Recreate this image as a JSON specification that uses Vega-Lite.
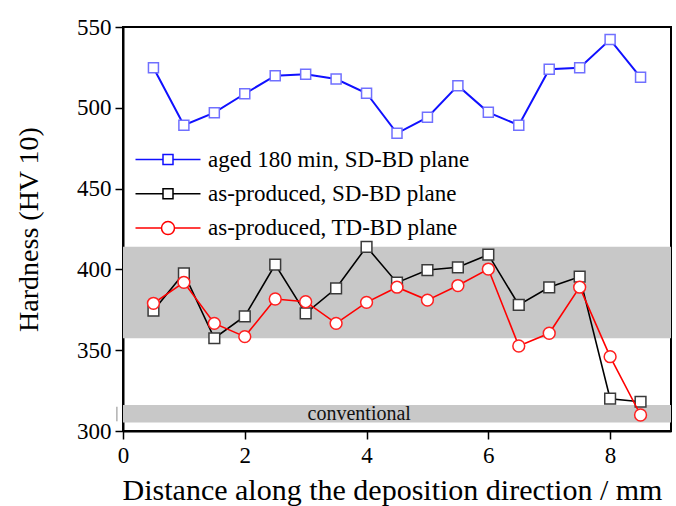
{
  "$schema": "https://vega.github.io/schema/vega-lite/v6.json",
  "width": 548,
  "height": 404,
  "autosize": {"type": "none"},
  "padding": {"left": 123, "top": 27, "right": 5, "bottom": 75},
  "background": "white",
  "config": {
    "view": {"stroke": "black", "strokeWidth": 2},
    "font": "Liberation Serif, Times New Roman, serif",
    "text": {"font": "Liberation Serif, Times New Roman, serif"},
    "axis": {
      "grid": false,
      "domainColor": "black",
      "domainWidth": 2,
      "tickColor": "black",
      "tickWidth": 1.5,
      "tickSize": 8,
      "labelFlush": false,
      "labelFont": "Liberation Serif, Times New Roman, serif",
      "labelFontSize": 23,
      "labelColor": "black",
      "titleFont": "Liberation Serif, Times New Roman, serif",
      "titleFontWeight": "normal",
      "titleColor": "black"
    },
    "legend": {
      "labelFont": "Liberation Serif, Times New Roman, serif"
    }
  },
  "datasets": {
    "hardness": [
      {"series": "aged 180 min, SD-BD plane", "distance": 0.5, "hv": 524.8},
      {"series": "aged 180 min, SD-BD plane", "distance": 1.0, "hv": 489.2},
      {"series": "aged 180 min, SD-BD plane", "distance": 1.5, "hv": 497.0},
      {"series": "aged 180 min, SD-BD plane", "distance": 2.0, "hv": 508.7},
      {"series": "aged 180 min, SD-BD plane", "distance": 2.5, "hv": 519.9},
      {"series": "aged 180 min, SD-BD plane", "distance": 3.0, "hv": 520.7},
      {"series": "aged 180 min, SD-BD plane", "distance": 3.5, "hv": 517.8},
      {"series": "aged 180 min, SD-BD plane", "distance": 4.0, "hv": 509.0},
      {"series": "aged 180 min, SD-BD plane", "distance": 4.5, "hv": 484.2},
      {"series": "aged 180 min, SD-BD plane", "distance": 5.0, "hv": 494.1},
      {"series": "aged 180 min, SD-BD plane", "distance": 5.5, "hv": 513.7},
      {"series": "aged 180 min, SD-BD plane", "distance": 6.0, "hv": 497.2},
      {"series": "aged 180 min, SD-BD plane", "distance": 6.5, "hv": 489.2},
      {"series": "aged 180 min, SD-BD plane", "distance": 7.0, "hv": 523.8},
      {"series": "aged 180 min, SD-BD plane", "distance": 7.5, "hv": 524.8},
      {"series": "aged 180 min, SD-BD plane", "distance": 8.0, "hv": 542.2},
      {"series": "aged 180 min, SD-BD plane", "distance": 8.5, "hv": 518.9},
      {"series": "as-produced, SD-BD plane", "distance": 0.5, "hv": 374.5},
      {"series": "as-produced, SD-BD plane", "distance": 1.0, "hv": 397.6},
      {"series": "as-produced, SD-BD plane", "distance": 1.5, "hv": 357.4},
      {"series": "as-produced, SD-BD plane", "distance": 2.0, "hv": 371.0},
      {"series": "as-produced, SD-BD plane", "distance": 2.5, "hv": 403.0},
      {"series": "as-produced, SD-BD plane", "distance": 3.0, "hv": 372.8},
      {"series": "as-produced, SD-BD plane", "distance": 3.5, "hv": 388.3},
      {"series": "as-produced, SD-BD plane", "distance": 4.0, "hv": 414.0},
      {"series": "as-produced, SD-BD plane", "distance": 4.5, "hv": 391.8},
      {"series": "as-produced, SD-BD plane", "distance": 5.0, "hv": 399.6},
      {"series": "as-produced, SD-BD plane", "distance": 5.5, "hv": 401.3},
      {"series": "as-produced, SD-BD plane", "distance": 6.0, "hv": 409.1},
      {"series": "as-produced, SD-BD plane", "distance": 6.5, "hv": 378.0},
      {"series": "as-produced, SD-BD plane", "distance": 7.0, "hv": 388.9},
      {"series": "as-produced, SD-BD plane", "distance": 7.5, "hv": 395.5},
      {"series": "as-produced, SD-BD plane", "distance": 8.0, "hv": 320.0},
      {"series": "as-produced, SD-BD plane", "distance": 8.5, "hv": 318.1},
      {"series": "as-produced, TD-BD plane", "distance": 0.5, "hv": 379.0},
      {"series": "as-produced, TD-BD plane", "distance": 1.0, "hv": 392.0},
      {"series": "as-produced, TD-BD plane", "distance": 1.5, "hv": 366.6},
      {"series": "as-produced, TD-BD plane", "distance": 2.0, "hv": 358.4},
      {"series": "as-produced, TD-BD plane", "distance": 2.5, "hv": 381.7},
      {"series": "as-produced, TD-BD plane", "distance": 3.0, "hv": 380.0},
      {"series": "as-produced, TD-BD plane", "distance": 3.5, "hv": 366.6},
      {"series": "as-produced, TD-BD plane", "distance": 4.0, "hv": 379.6},
      {"series": "as-produced, TD-BD plane", "distance": 4.5, "hv": 389.0},
      {"series": "as-produced, TD-BD plane", "distance": 5.0, "hv": 381.0},
      {"series": "as-produced, TD-BD plane", "distance": 5.5, "hv": 390.0},
      {"series": "as-produced, TD-BD plane", "distance": 6.0, "hv": 400.2},
      {"series": "as-produced, TD-BD plane", "distance": 6.5, "hv": 352.6},
      {"series": "as-produced, TD-BD plane", "distance": 7.0, "hv": 360.5},
      {"series": "as-produced, TD-BD plane", "distance": 7.5, "hv": 389.0},
      {"series": "as-produced, TD-BD plane", "distance": 8.0, "hv": 346.0},
      {"series": "as-produced, TD-BD plane", "distance": 8.5, "hv": 309.9}
    ],
    "bands": [
      {"band": "additive", "low": 357.4, "high": 414.0},
      {"band": "conventional", "low": 305.2, "high": 316.1}
    ],
    "bandLabel": [
      {"label": "conventional", "distance": 3.88, "hv": 310.6}
    ],
    "breakMark": [
      {"distance": -0.1, "low": 306, "high": 315}
    ]
  },
  "layer": [
    {
      "data": {"name": "bands"},
      "mark": {"type": "rect", "color": "#c8c8c8"},
      "encoding": {
        "y": {
          "field": "low",
          "type": "quantitative",
          "scale": {"domain": [300, 550], "nice": false, "zero": false},
          "axis": {
            "values": [300, 350, 400, 450, 500, 550],
            "format": "d",
            "title": "Hardness (HV 10)",
            "titleFontSize": 28,
            "titlePadding": 33,
            "labelPadding": 4
          }
        },
        "y2": {"field": "high"}
      }
    },
    {
      "data": {"name": "breakMark"},
      "mark": {"type": "rule", "color": "#8a8a8a", "strokeWidth": 1, "clip": false},
      "encoding": {
        "x": {"field": "distance", "type": "quantitative"},
        "y": {"field": "low", "type": "quantitative"},
        "y2": {"field": "high"}
      }
    },
    {
      "data": {"name": "bandLabel"},
      "mark": {"type": "text", "fontSize": 20, "color": "#111", "baseline": "middle", "align": "center"},
      "encoding": {
        "x": {"field": "distance", "type": "quantitative"},
        "y": {"field": "hv", "type": "quantitative"},
        "text": {"field": "label"}
      }
    },
    {
      "data": {"name": "hardness"},
      "transform": [{"filter": "datum.series === 'aged 180 min, SD-BD plane'"}],
      "mark": {"type": "line", "strokeWidth": 2},
      "encoding": {
        "x": {
          "field": "distance",
          "type": "quantitative",
          "scale": {"domain": [0, 9], "nice": false, "zero": false},
          "axis": {
            "values": [0, 2, 4, 6, 8],
            "format": "d",
            "title": "Distance along the deposition direction / mm",
            "titleFontSize": 30,
            "titleAnchor": "middle",
            "titleX": 269,
            "titlePadding": 8,
            "labelPadding": 5
          }
        },
        "y": {"field": "hv", "type": "quantitative"},
        "color": {
          "field": "series",
          "type": "nominal",
          "scale": {
            "domain": ["aged 180 min, SD-BD plane", "as-produced, SD-BD plane", "as-produced, TD-BD plane"],
            "range": ["#1010ff", "#000000", "#ff0000"]
          },
          "legend": {
            "title": null,
            "orient": "none",
            "legendX": 33.5,
            "legendY": 121,
            "padding": 0,
            "rowPadding": 10.3,
            "symbolSize": 100,
            "symbolStrokeWidth": 1.5,
            "labelOffset": 28.5,
            "labelFontSize": 23,
            "labelColor": "black",
            "labelLimit": 400,
            "encode": {
              "symbols": {
                "update": {
                  "shape": {"signal": "datum.value === 'as-produced, TD-BD plane' ? 'M-6.5,0H-1.3M1.3,0H6.5M-1.3,0A1.3,1.3 0 1,1 1.3,0A1.3,1.3 0 1,1 -1.3,0Z' : 'M-6.5,0H-1M1,0H6.5M-1,-1H1V1H-1Z'"},
                  "fill": {"value": "white"},
                  "fillOpacity": {"value": 1},
                  "strokeWidth": {"value": 1.5}
                }
              }
            }
          }
        }
      }
    },
    {
      "data": {"name": "hardness"},
      "transform": [{"filter": "datum.series === 'aged 180 min, SD-BD plane'"}],
      "mark": {"type": "point", "shape": "square", "size": 100, "filled": true, "fill": "white", "stroke": "#7070ff", "strokeWidth": 1.5, "opacity": 1},
      "encoding": {
        "x": {"field": "distance", "type": "quantitative"},
        "y": {"field": "hv", "type": "quantitative"}
      }
    },
    {
      "data": {"name": "hardness"},
      "transform": [{"filter": "datum.series === 'as-produced, SD-BD plane'"}],
      "mark": {"type": "line", "strokeWidth": 1.6},
      "encoding": {
        "x": {"field": "distance", "type": "quantitative"},
        "y": {"field": "hv", "type": "quantitative"},
        "color": {"field": "series", "type": "nominal"}
      }
    },
    {
      "data": {"name": "hardness"},
      "transform": [{"filter": "datum.series === 'as-produced, SD-BD plane'"}],
      "mark": {"type": "point", "shape": "square", "size": 115, "filled": true, "fill": "white", "stroke": "#3a3a3a", "strokeWidth": 1.5, "opacity": 1},
      "encoding": {
        "x": {"field": "distance", "type": "quantitative"},
        "y": {"field": "hv", "type": "quantitative"}
      }
    },
    {
      "data": {"name": "hardness"},
      "transform": [{"filter": "datum.series === 'as-produced, TD-BD plane'"}],
      "mark": {"type": "line", "strokeWidth": 1.6},
      "encoding": {
        "x": {"field": "distance", "type": "quantitative"},
        "y": {"field": "hv", "type": "quantitative"},
        "color": {"field": "series", "type": "nominal"}
      }
    },
    {
      "data": {"name": "hardness"},
      "transform": [{"filter": "datum.series === 'as-produced, TD-BD plane'"}],
      "mark": {"type": "point", "shape": "circle", "size": 140, "filled": true, "fill": "white", "stroke": "#ff2020", "strokeWidth": 1.5, "opacity": 1},
      "encoding": {
        "x": {"field": "distance", "type": "quantitative"},
        "y": {"field": "hv", "type": "quantitative"}
      }
    }
  ]
}
